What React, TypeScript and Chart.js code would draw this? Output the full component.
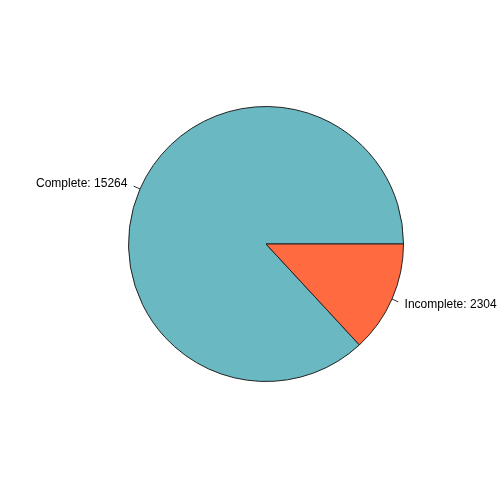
import React, { useEffect, useRef } from 'react';
import Chart from 'chart.js/auto';

const categories = ['Complete', 'Incomplete'];
const counts = [15264, 2304];
const sliceColors = ['#69B8C2', '#FF6A40'];

// R's pie() starts at 3 o'clock and goes counter-clockwise;
// Chart.js goes clockwise, so rotate by the size of the last slice.
const total = counts.reduce((a, b) => a + b, 0);
const startRotation = 90 + (360 * counts[counts.length - 1]) / total;

const outsideLabels = {
  id: 'outsideLabels',
  afterDatasetsDraw(chart: any) {
    const { ctx } = chart;
    const meta = chart.getDatasetMeta(0);
    ctx.save();
    ctx.font = '12px "Liberation Sans", Arial, sans-serif';
    ctx.fillStyle = '#000';
    ctx.strokeStyle = '#333';
    ctx.lineWidth = 1;
    ctx.textBaseline = 'middle';
    meta.data.forEach((arc: any, i: number) => {
      const { x, y, startAngle, endAngle, outerRadius } = arc.getProps(
        ['x', 'y', 'startAngle', 'endAngle', 'outerRadius'],
        true
      );
      const mid = (startAngle + endAngle) / 2;
      const cx = Math.cos(mid);
      const cy = Math.sin(mid);
      ctx.beginPath();
      ctx.moveTo(x + cx * outerRadius, y + cy * outerRadius);
      ctx.lineTo(x + cx * outerRadius * 1.05, y + cy * outerRadius * 1.05);
      ctx.stroke();
      ctx.textAlign = cx < 0 ? 'right' : 'left';
      ctx.fillText(
        `${categories[i]}: ${counts[i]}`,
        x + cx * outerRadius * 1.1,
        y + cy * outerRadius * 1.1
      );
    });
    ctx.restore();
  },
};

const App = () => {
  const chartRef = useRef<HTMLCanvasElement>(null);
  const chartInstance = useRef<Chart | null>(null);

  useEffect(() => {
    if (!chartRef.current) return;
    if (chartInstance.current) chartInstance.current.destroy();
    const ctx = chartRef.current.getContext('2d');
    if (!ctx) return;
    chartInstance.current = new Chart(ctx, {
      type: 'pie',
      data: {
        labels: categories,
        datasets: [
          {
            data: counts,
            backgroundColor: sliceColors,
            borderColor: '#222',
            borderWidth: 1,
          },
        ],
      },
      options: {
        responsive: false,
        animation: false,
        rotation: startRotation,
        layout: { padding: { left: 128, right: 100, top: 106, bottom: 122 } },
        plugins: {
          legend: { display: false },
          tooltip: { enabled: false },
        },
      },
      plugins: [outsideLabels],
    });
    return () => {
      if (chartInstance.current) {
        chartInstance.current.destroy();
        chartInstance.current = null;
      }
    };
  }, []);

  return (
    <div style={{ position: 'fixed', left: 0, top: 0, width: 504, height: 504, background: '#fff' }}>
      <canvas ref={chartRef} width={504} height={504} style={{ width: 504, height: 504 }}></canvas>
    </div>
  );
};

export default App;
